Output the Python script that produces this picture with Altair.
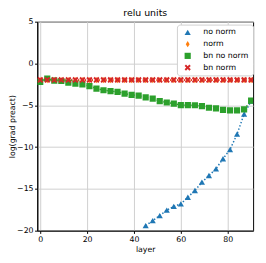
import altair as alt
import pandas as pd

series_names = ["no norm", "norm", "bn no norm", "bn norm"]
colors = ["#1f77b4", "#ff7f0e", "#2ca02c", "#d62728"]

layers_all = list(range(0, 91, 3))

no_norm_x = [45, 48, 51, 54, 57, 60, 63, 66, 69, 72, 75, 78, 81, 84, 87, 90]
no_norm_y = [-19.4, -18.8, -18.2, -17.55, -17.1, -16.8, -16.0, -15.2, -14.2,
             -13.4, -12.6, -11.4, -10.3, -8.45, -6.05, -4.5]

norm_y = [-2.0] * 31

bn_no_norm_y = [-2.2, -1.8, -2.05, -2.1, -2.3, -2.4, -2.5, -2.7, -3.0, -3.2,
                -3.3, -3.4, -3.6, -3.75, -3.85, -4.05, -4.2, -4.5, -4.67, -4.8,
                -4.98, -4.98, -5.0, -5.1, -5.3, -5.36, -5.55, -5.6, -5.6, -5.5,
                -4.45]

bn_norm_y = [-1.97] * 31

rows = []
for x, y in zip(no_norm_x, no_norm_y):
    rows.append({"series": "no norm", "layer": x, "val": y, "o": 0})
for x, y in zip(layers_all, norm_y):
    rows.append({"series": "norm", "layer": x, "val": y, "o": 1})
for x, y in zip(layers_all, bn_no_norm_y):
    rows.append({"series": "bn no norm", "layer": x, "val": y, "o": 2})
for x, y in zip(layers_all, bn_norm_y):
    rows.append({"series": "bn norm", "layer": x, "val": y, "o": 3})
df = pd.DataFrame(rows)

thin_diamond = "M0,-1L0.62,0L0,1L-0.62,0Z"
x_shape = "M-1,-0.55L-0.55,-1L0,-0.45L0.55,-1L1,-0.55L0.45,0L1,0.55L0.55,1L0,0.45L-0.55,1L-1,0.55L-0.45,0Z"
shapes = ["triangle-up", thin_diamond, "square", x_shape]

leg = alt.Legend(title=None, orient="none", legendX=143, legendY=3)

xenc = alt.X("layer:Q", scale=alt.Scale(domain=[-1.25, 90.85], nice=False, zero=False),
             axis=alt.Axis(values=[0, 20, 40, 60, 80], title="layer"))
yenc = alt.Y("val:Q", scale=alt.Scale(domain=[-20, 5], nice=False),
             axis=alt.Axis(values=[5, 0, -5, -10, -15, -20], title="log(grad preact)",
                           labelExpr="replace(datum.label, '-', '\u2212')",
                           titleX=-21, titleBaseline="bottom"))
cenc = alt.Color("series:N", scale=alt.Scale(domain=series_names, range=colors), legend=leg)
senc = alt.Shape("series:N", scale=alt.Scale(domain=series_names, range=shapes), legend=leg)

lines = alt.Chart(df).mark_line(strokeDash=[1.5, 2], strokeWidth=1.5, clip=True).encode(
    x=xenc, y=yenc, color=cenc, detail="series:N", order="layer:Q")

points = alt.Chart(df).mark_point(filled=True, opacity=1, size=40, clip=True).encode(
    x=xenc, y=yenc, color=cenc, shape=senc, order="o:Q")

chart = alt.layer(lines, points).properties(
    width=221, height=214,
    title=alt.TitleParams("relu units", fontSize=9.6, fontWeight="normal",
                          font="DejaVu Sans", offset=0, color="#000"),
    padding={"left": 30, "top": 11, "right": 5, "bottom": 26},
    autosize="none",
).configure_view(stroke="#000", strokeWidth=1).configure_axis(
    labelFont="DejaVu Sans", titleFont="DejaVu Sans", labelFontSize=8,
    titleFontSize=8, titleFontWeight="normal", labelColor="#000", titleColor="#000",
    domainColor="#000", tickColor="#000", tickSize=2.8, grid=True, gridColor="#cfcfcf",
    gridWidth=1, labelPadding=2, titlePadding=3,
).configure_axisY(labelPadding=1.5).configure_legend(
    labelFont="DejaVu Sans", labelFontSize=8, labelColor="#000", fillColor="white",
    strokeColor="#d0d0d0", cornerRadius=3, padding=4, symbolSize=40, rowPadding=4,
    symbolStrokeWidth=0, labelOffset=12, symbolOffset=3,
)

chart.save("out.html", embed_options={"renderer": "svg", "actions": False})
